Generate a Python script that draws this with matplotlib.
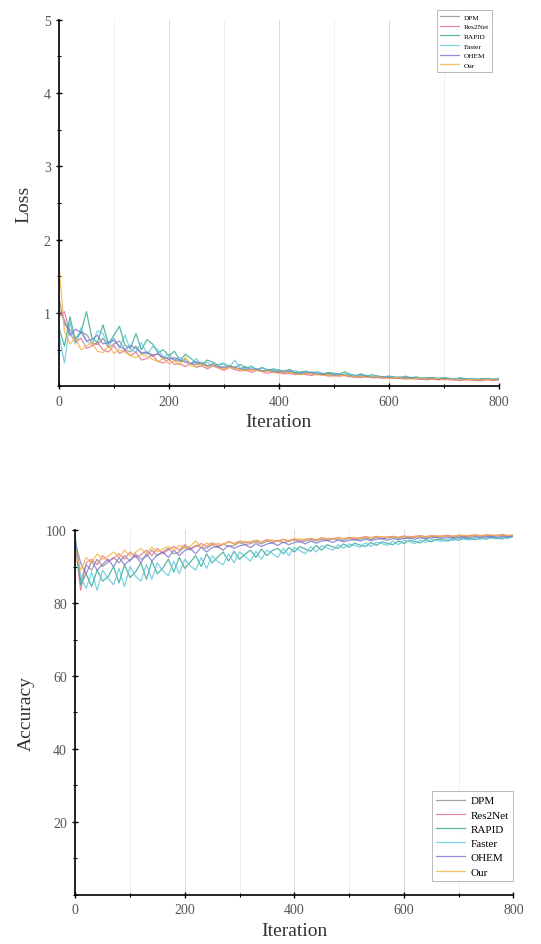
import numpy as np
import matplotlib
matplotlib.use("Agg")
import matplotlib.pyplot as plt
from matplotlib.ticker import MultipleLocator

plt.rcParams['font.family'] = ['Liberation Serif', 'DejaVu Serif']

models = ['DPM', 'Res2Net', 'RAPID', 'Faster', 'OHEM', 'Our']
colors = ['#8c8c8c', '#e8688f', '#2fa68a', '#5cc6df', '#7b72d2', '#f0b43a']
step = 10  # sampling interval of the values below (iterations)

loss_dpm = [1.20, 0.85, 0.78, 0.66, 0.74, 0.71, 0.60, 0.57, 0.66, 0.53,
            0.58, 0.62, 0.50, 0.47, 0.55, 0.44, 0.46, 0.41, 0.45, 0.37,
            0.40, 0.36, 0.34, 0.37, 0.31, 0.30, 0.33, 0.28, 0.31, 0.26,
            0.27, 0.29, 0.25, 0.24, 0.27, 0.22, 0.24, 0.21, 0.23, 0.22,
            0.20, 0.19, 0.22, 0.18, 0.19, 0.17, 0.20, 0.17, 0.16, 0.18,
            0.17, 0.15, 0.17, 0.15, 0.14, 0.16, 0.14, 0.13, 0.14, 0.12,
            0.13, 0.12, 0.13, 0.11, 0.12, 0.12, 0.11, 0.10, 0.11, 0.10,
            0.11, 0.10, 0.10, 0.09, 0.10, 0.10, 0.09, 0.09, 0.10, 0.09,
            0.10]
loss_res2net = [0.95, 1.02, 0.72, 0.60, 0.66, 0.52, 0.55, 0.60, 0.50, 0.47,
                0.56, 0.45, 0.49, 0.42, 0.47, 0.36, 0.38, 0.43, 0.34, 0.32,
                0.37, 0.30, 0.31, 0.27, 0.32, 0.26, 0.28, 0.24, 0.28, 0.25,
                0.22, 0.26, 0.23, 0.21, 0.23, 0.19, 0.22, 0.20, 0.18, 0.20,
                0.19, 0.17, 0.18, 0.16, 0.18, 0.16, 0.15, 0.17, 0.16, 0.14,
                0.15, 0.14, 0.15, 0.13, 0.13, 0.12, 0.14, 0.12, 0.12, 0.11,
                0.12, 0.11, 0.11, 0.10, 0.11, 0.10, 0.10, 0.09, 0.10, 0.09,
                0.10, 0.09, 0.09, 0.08, 0.09, 0.09, 0.08, 0.08, 0.09, 0.08,
                0.09]
loss_rapid = [0.80, 0.55, 0.95, 0.62, 0.74, 1.02, 0.66, 0.60, 0.84, 0.58,
              0.70, 0.82, 0.56, 0.52, 0.72, 0.50, 0.64, 0.58, 0.46, 0.50,
              0.42, 0.48, 0.35, 0.44, 0.38, 0.32, 0.30, 0.36, 0.33, 0.29,
              0.31, 0.27, 0.26, 0.30, 0.25, 0.27, 0.23, 0.26, 0.22, 0.24,
              0.22, 0.21, 0.23, 0.19, 0.20, 0.21, 0.18, 0.20, 0.17, 0.19,
              0.18, 0.17, 0.20, 0.16, 0.15, 0.17, 0.14, 0.16, 0.14, 0.13,
              0.14, 0.13, 0.12, 0.14, 0.12, 0.13, 0.11, 0.12, 0.12, 0.11,
              0.12, 0.11, 0.10, 0.12, 0.10, 0.11, 0.10, 0.10, 0.11, 0.10,
              0.11]
loss_faster = [0.70, 0.32, 0.88, 0.58, 0.80, 0.62, 0.57, 0.76, 0.72, 0.55,
               0.66, 0.52, 0.70, 0.50, 0.47, 0.60, 0.44, 0.54, 0.50, 0.40,
               0.44, 0.36, 0.40, 0.34, 0.31, 0.38, 0.29, 0.33, 0.27, 0.30,
               0.32, 0.26, 0.36, 0.25, 0.24, 0.28, 0.22, 0.25, 0.23, 0.21,
               0.23, 0.20, 0.19, 0.22, 0.18, 0.20, 0.17, 0.19, 0.18, 0.16,
               0.17, 0.16, 0.15, 0.17, 0.14, 0.15, 0.15, 0.13, 0.14, 0.13,
               0.14, 0.12, 0.12, 0.13, 0.11, 0.12, 0.12, 0.11, 0.11, 0.11,
               0.12, 0.10, 0.11, 0.11, 0.10, 0.11, 0.10, 0.11, 0.10, 0.10,
               0.11]
loss_ohem = [1.05, 0.90, 0.70, 0.78, 0.74, 0.62, 0.64, 0.70, 0.58, 0.60,
             0.63, 0.55, 0.50, 0.56, 0.52, 0.46, 0.47, 0.43, 0.44, 0.40,
             0.37, 0.39, 0.36, 0.33, 0.31, 0.34, 0.30, 0.28, 0.29, 0.27,
             0.25, 0.27, 0.26, 0.24, 0.22, 0.24, 0.23, 0.21, 0.22, 0.20,
             0.19, 0.21, 0.20, 0.18, 0.17, 0.19, 0.18, 0.16, 0.17, 0.16,
             0.15, 0.16, 0.15, 0.14, 0.13, 0.14, 0.14, 0.12, 0.13, 0.13,
             0.12, 0.12, 0.11, 0.12, 0.11, 0.11, 0.10, 0.11, 0.11, 0.10,
             0.10, 0.11, 0.09, 0.10, 0.10, 0.09, 0.09, 0.10, 0.10, 0.09,
             0.09]
loss_our = [1.65, 0.75, 0.58, 0.66, 0.50, 0.55, 0.60, 0.48, 0.46, 0.56,
            0.45, 0.50, 0.47, 0.42, 0.39, 0.44, 0.41, 0.37, 0.34, 0.38,
            0.31, 0.35, 0.29, 0.40, 0.28, 0.27, 0.31, 0.26, 0.29, 0.25,
            0.24, 0.26, 0.25, 0.23, 0.21, 0.23, 0.22, 0.20, 0.21, 0.19,
            0.18, 0.20, 0.19, 0.17, 0.16, 0.18, 0.17, 0.16, 0.15, 0.16,
            0.14, 0.15, 0.15, 0.14, 0.13, 0.14, 0.12, 0.13, 0.13, 0.12,
            0.11, 0.12, 0.12, 0.11, 0.10, 0.11, 0.11, 0.10, 0.10, 0.11,
            0.09, 0.10, 0.10, 0.09, 0.09, 0.10, 0.09, 0.09, 0.10, 0.09,
            0.09]

acc_dpm = [97.5, 86.0, 90.5, 89.0, 92.0, 90.0, 91.2, 92.5, 91.0, 93.0,
           91.5, 93.5, 92.0, 92.8, 94.5, 93.0, 94.0, 95.0, 93.5, 94.0,
           95.5, 94.5, 95.8, 95.3, 95.0, 96.0, 95.2, 96.2, 95.5, 95.8,
           96.6, 96.0, 96.3, 96.8, 96.2, 97.0, 96.5, 97.1, 96.6, 96.9,
           97.3, 96.8, 97.0, 97.4, 97.0, 97.5, 97.1, 97.6, 97.3, 97.2,
           97.8, 97.3, 97.5, 97.9, 97.4, 98.0, 97.6, 97.8, 98.1, 97.7,
           98.2, 97.8, 98.0, 98.2, 97.9, 98.3, 98.0, 98.1, 98.4, 98.0,
           98.4, 98.1, 98.3, 98.5, 98.1, 98.5, 98.2, 98.4, 98.6, 98.2,
           98.5]
acc_res2net = [96.0, 83.5, 91.0, 92.0, 90.5, 93.0, 91.5, 92.2, 93.5, 92.0,
               94.0, 92.5, 93.2, 94.5, 93.0, 95.0, 93.5, 94.6, 95.5, 94.5,
               96.0, 95.0, 95.6, 96.3, 95.5, 96.5, 95.8, 96.1, 96.9, 96.3,
               97.0, 96.5, 96.8, 97.2, 96.7, 97.4, 97.0, 97.1, 97.5, 97.1,
               97.6, 97.2, 97.5, 97.7, 97.3, 97.9, 97.5, 97.6, 98.0, 97.6,
               98.0, 97.7, 97.9, 98.2, 97.9, 98.3, 98.0, 98.1, 98.3, 98.0,
               98.4, 98.1, 98.3, 98.5, 98.2, 98.5, 98.3, 98.4, 98.6, 98.3,
               98.6, 98.4, 98.5, 98.7, 98.5, 98.7, 98.5, 98.6, 98.8, 98.5,
               98.6]
acc_rapid = [98.0, 85.0, 88.0, 84.5, 89.0, 86.0, 87.2, 90.0, 85.5, 90.5,
             87.0, 88.5, 91.0, 86.5, 91.5, 88.0, 89.6, 92.0, 88.5, 92.5,
             89.5, 91.2, 93.0, 90.0, 93.5, 91.0, 92.6, 94.0, 91.5, 94.2,
             92.0, 93.4, 94.5, 92.5, 94.8, 93.0, 94.4, 95.0, 93.5, 95.2,
             94.0, 95.5, 94.8, 94.2, 95.8, 94.5, 96.0, 95.4, 95.0, 96.2,
             95.3, 96.4, 95.9, 95.5, 96.6, 95.8, 96.8, 96.4, 96.0, 97.0,
             96.3, 97.2, 96.9, 96.5, 97.4, 96.8, 97.5, 97.3, 97.0, 97.7,
             97.2, 97.8, 97.6, 97.4, 97.9, 97.5, 98.0, 97.8, 97.6, 98.1,
             98.3]
acc_faster = [97.0, 87.0, 84.0, 88.5, 83.5, 89.0, 86.8, 85.0, 89.5, 84.5,
              90.0, 87.4, 86.0, 90.5, 86.5, 91.0, 88.8, 87.5, 91.5, 88.0,
              92.0, 90.2, 89.0, 92.5, 89.5, 93.0, 91.4, 90.5, 93.5, 91.0,
              94.0, 92.8, 91.5, 94.2, 92.0, 94.5, 93.6, 92.5, 95.0, 93.0,
              95.2, 94.4, 93.5, 95.5, 94.0, 95.8, 95.1, 94.5, 96.0, 95.0,
              96.2, 95.8, 95.3, 96.5, 95.5, 96.7, 96.3, 95.8, 97.0, 96.0,
              97.2, 96.8, 96.3, 97.3, 96.6, 97.5, 97.2, 96.9, 97.6, 97.1,
              97.8, 97.5, 97.3, 97.9, 97.4, 98.0, 97.8, 97.6, 98.1, 97.7,
              98.2]
acc_ohem = [96.5, 91.0, 88.0, 91.5, 89.0, 90.6, 92.0, 90.0, 92.5, 90.5,
            91.8, 93.0, 91.0, 93.5, 91.5, 93.2, 94.0, 92.5, 94.5, 93.0,
            94.4, 95.0, 93.5, 95.3, 94.0, 95.2, 95.5, 94.5, 95.8, 95.0,
            95.7, 96.0, 95.2, 96.3, 95.5, 96.2, 96.5, 95.8, 96.7, 96.0,
            96.6, 96.9, 96.2, 97.0, 96.4, 97.0, 97.2, 96.6, 97.3, 96.8,
            97.2, 97.4, 97.0, 97.5, 97.1, 97.5, 97.6, 97.2, 97.7, 97.4,
            97.7, 97.8, 97.5, 97.9, 97.6, 97.9, 98.0, 97.7, 98.0, 97.8,
            98.0, 98.1, 97.9, 98.2, 98.0, 98.2, 98.2, 98.0, 98.3, 98.1,
            98.4]
acc_our = [95.0, 89.0, 92.5, 91.0, 93.5, 92.0, 92.8, 94.0, 92.5, 94.5,
           93.0, 93.9, 95.0, 93.5, 95.3, 94.0, 94.8, 95.5, 94.5, 95.8,
           95.0, 95.6, 97.0, 95.3, 96.5, 95.8, 96.4, 96.0, 96.8, 96.2,
           96.7, 97.0, 96.5, 97.2, 96.7, 97.1, 97.3, 96.9, 97.4, 97.0,
           97.4, 97.6, 97.2, 97.7, 97.3, 97.7, 97.8, 97.5, 97.9, 97.6,
           97.9, 98.0, 97.7, 98.1, 97.8, 98.1, 98.2, 97.9, 98.2, 98.0,
           98.2, 98.3, 98.0, 98.4, 98.1, 98.4, 98.4, 98.2, 98.5, 98.3,
           98.5, 98.6, 98.3, 98.6, 98.4, 98.6, 98.7, 98.4, 98.7, 98.5,
           98.7]

loss_all = [loss_dpm, loss_res2net, loss_rapid, loss_faster, loss_ohem, loss_our]
acc_all = [acc_dpm, acc_res2net, acc_rapid, acc_faster, acc_ohem, acc_our]


def style_axes(ax, ymajor, yminor, ylim, ylabel):
    ax.set_xlim(0, 800)
    ax.set_ylim(*ylim)
    ax.xaxis.set_major_locator(MultipleLocator(200))
    ax.xaxis.set_minor_locator(MultipleLocator(100))
    ax.set_yticks(ymajor)
    ax.yaxis.set_minor_locator(MultipleLocator(yminor))
    ax.grid(axis='x', which='major', color='#d9d9d9', linewidth=0.7)
    ax.grid(axis='x', which='minor', color='#eeeeee', linewidth=0.6)
    ax.set_axisbelow(True)
    for s in ('top', 'right'):
        ax.spines[s].set_visible(False)
    for s in ('left', 'bottom'):
        ax.spines[s].set_linewidth(1.2)
    ax.tick_params(which='major', direction='inout', length=5, width=1, labelsize=10, labelcolor='#555555')
    ax.tick_params(which='minor', direction='inout', length=3, width=0.8)
    ax.set_xlabel('Iteration', fontsize=14, color='#333333')
    ax.set_ylabel(ylabel, fontsize=14, color='#333333', labelpad=8)


fig = plt.figure(figsize=(5.41, 9.45), dpi=100)
ax1 = fig.add_axes([0.109, 0.590, 0.813, 0.388])
ax2 = fig.add_axes([0.139, 0.052, 0.810, 0.386])

for name, c, vals in zip(models, colors, loss_all):
    x = np.arange(len(vals)) * step
    ax1.plot(x, vals, color=c, lw=0.9, alpha=0.8, label=name)
for name, c, vals in zip(models, colors, acc_all):
    x = np.arange(len(vals)) * step
    ax2.plot(x, vals, color=c, lw=0.9, alpha=0.8, label=name)

style_axes(ax1, [1, 2, 3, 4, 5], 0.5, (0, 5), 'Loss')
style_axes(ax2, [20, 40, 60, 80, 100], 10, (0, 100), 'Accuracy')

leg1 = ax1.legend(loc='upper right', bbox_to_anchor=(0.985, 1.027), borderaxespad=0,
                  fontsize=5.2, frameon=True, fancybox=False, edgecolor='#999999',
                  handlelength=2.6, handletextpad=0.6, borderpad=0.5, labelspacing=0.5)
leg1.get_frame().set_linewidth(0.6)
leg2 = ax2.legend(loc='lower right', bbox_to_anchor=(1.0, 0.038), borderaxespad=0,
                  fontsize=8, frameon=True, fancybox=False, edgecolor='#999999',
                  handlelength=2.6, handletextpad=0.5, borderpad=0.4, labelspacing=0.4)
leg2.get_frame().set_linewidth(0.6)

plt.savefig('out.png', dpi=100)
